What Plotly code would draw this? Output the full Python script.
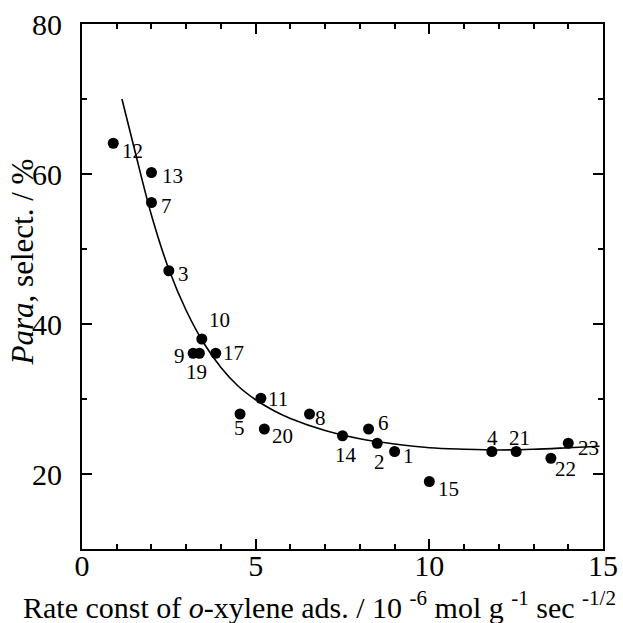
import plotly.graph_objects as go

# Data points (rate constant vs para-selectivity)
labels = ["12", "13", "7", "3", "10", "9", "19", "17", "11", "5", "20",
          "8", "14", "6", "2", "1", "15", "4", "21", "22", "23"]
rate = [0.9, 2.0, 2.0, 2.5, 3.45, 3.2, 3.38, 3.85, 5.15, 4.55, 5.25,
        6.55, 7.5, 8.25, 8.5, 9.0, 10.0, 11.8, 12.5, 13.5, 14.0]
para = [64.1, 60.2, 56.2, 47.1, 38.0, 36.1, 36.1, 36.1, 30.1, 28.0, 26.0,
        28.0, 25.1, 26.0, 24.1, 23.0, 19.0, 23.0, 23.0, 22.1, 24.1]

# Fitted curve
curve_x = [1.15, 1.5, 2.0, 2.5, 3.0, 3.5, 4.0, 4.5, 5.0, 5.5, 6.0, 7.0,
           8.0, 9.0, 10.0, 11.0, 12.0, 13.0, 14.0, 14.9]
curve_y = [70.0, 63.5, 54.5, 47.3, 41.8, 37.5, 34.2, 31.7, 29.9, 28.5, 27.4,
           25.8, 24.7, 24.0, 23.5, 23.3, 23.2, 23.3, 23.5, 23.7]

# label pixel offsets (dx right, dy down)
offsets = {"12": (19, 8), "13": (21, 3), "7": (15, 3), "3": (15, 3),
           "10": (18, -19), "9": (-14, 3), "19": (-3, 19), "17": (18, 0),
           "11": (17, 1), "5": (-1, 14), "20": (18, 7), "8": (11, 4),
           "14": (3, 19), "6": (15, -6), "2": (2, 19), "1": (14, 4),
           "15": (19, 7), "4": (1, -14), "21": (3, -14), "22": (15, 11),
           "23": (20, 5)}

FONT = "Liberation Serif"

fig = go.Figure()
fig.add_trace(go.Scatter(x=curve_x, y=curve_y, mode="lines",
                         line=dict(color="black", width=1.6, shape="spline", smoothing=1.0),
                         hoverinfo="skip", showlegend=False))
fig.add_trace(go.Scatter(x=rate, y=para, mode="markers",
                         marker=dict(color="black", size=11),
                         showlegend=False))

annotations = []
for lab, xv, yv in zip(labels, rate, para):
    dx, dy = offsets[lab]
    annotations.append(dict(x=xv, y=yv, xref="x", yref="y", text=lab,
                            showarrow=False, xshift=dx, yshift=-dy,
                            font=dict(family=FONT, size=21, color="black")))

annotations.append(dict(x=-0.114, y=0.547, xref="paper", yref="paper",
                        text="<i>Para</i>, select. / %", textangle=-90,
                        showarrow=False, xanchor="center", yanchor="middle",
                        font=dict(family=FONT, size=31, color="black")))
annotations.append(dict(x=0.455, y=-0.106, xref="paper", yref="paper",
                        text="Rate const of <i>o</i>-xylene ads. / 10 <sup>-6</sup> mol g <sup>-1</sup> sec <sup>-1/2</sup>",
                        showarrow=False, xanchor="center", yanchor="middle",
                        font=dict(family=FONT, size=30, color="black")))

axis_common = dict(showgrid=False, zeroline=False, showline=True, linecolor="black",
                   linewidth=2, mirror="allticks", ticks="inside", tickcolor="black",
                   tickwidth=2, ticklen=10, automargin=False,
                   tickfont=dict(family=FONT, size=30, color="black"))

fig.update_xaxes(range=[0, 15], tickvals=[0, 5, 10, 15], ticklabelstandoff=-11,
                 minor=dict(dtick=1, ticks="inside", ticklen=5, tickwidth=2, tickcolor="black"),
                 **axis_common)
fig.update_yaxes(range=[10, 80], tickvals=[20, 40, 60, 80], ticklabelstandoff=12,
                 minor=dict(dtick=10, tick0=0, ticks="inside", ticklen=5, tickwidth=2, tickcolor="black"),
                 **axis_common)

fig.update_layout(width=623, height=623, margin=dict(l=82, r=20, t=24, b=74),
                  plot_bgcolor="white", paper_bgcolor="white",
                  annotations=annotations)

fig.write_html("out.html", config={"displayModeBar": False},
               post_script="document.body.style.margin='0';document.body.style.overflow='hidden';")
